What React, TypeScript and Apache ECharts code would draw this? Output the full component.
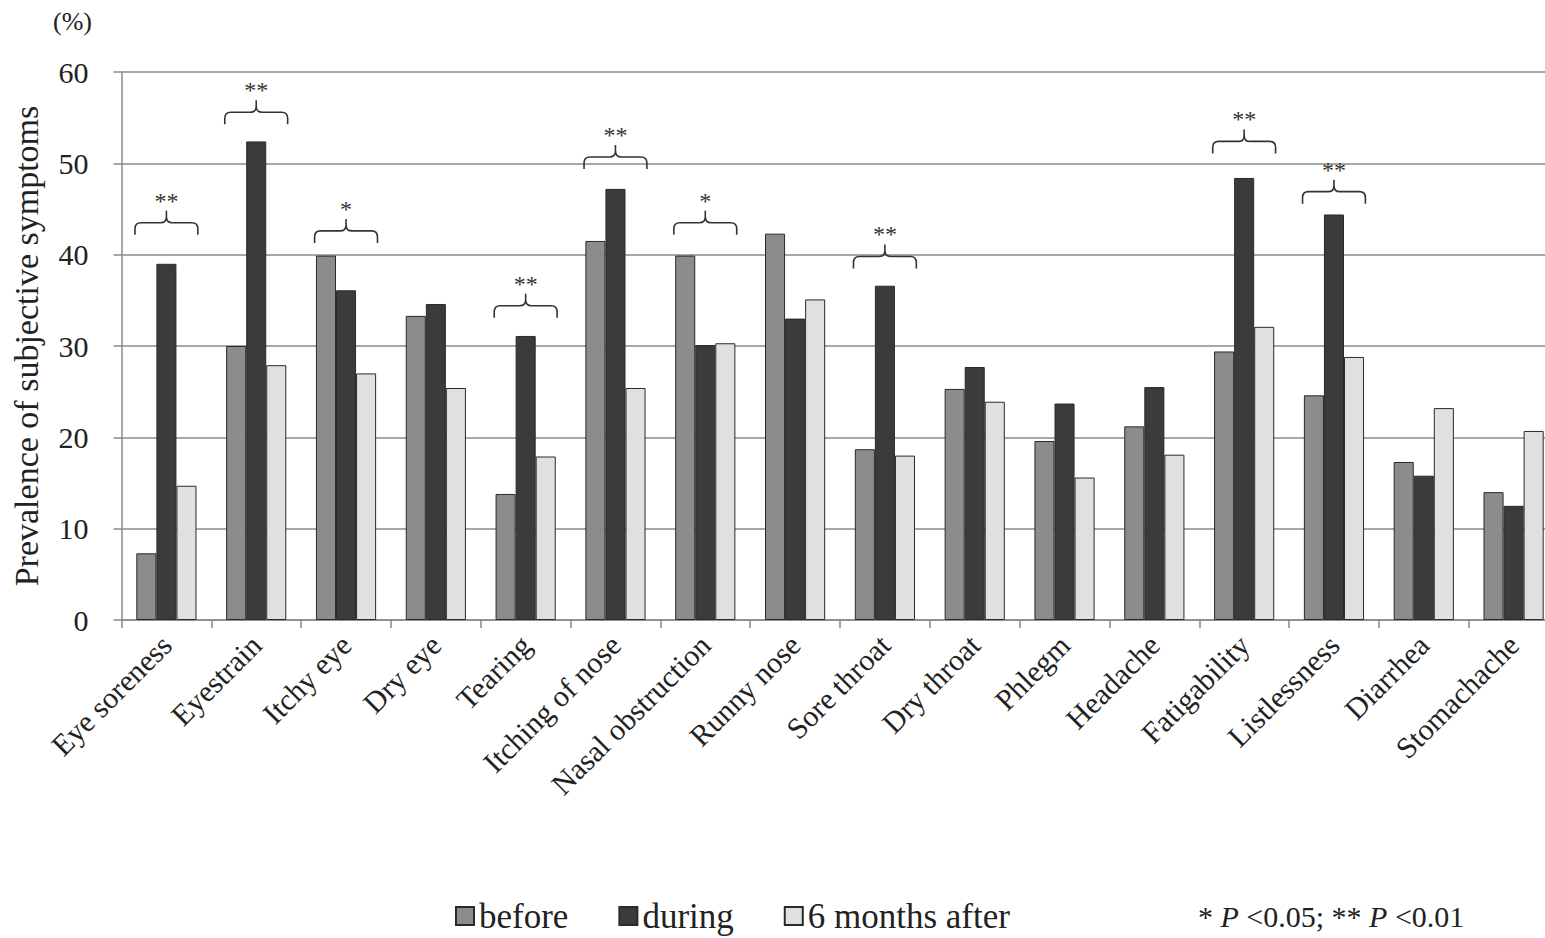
import React, { useEffect, useRef } from "react";
import * as echarts from "echarts";

const categories = [
  "Eye soreness", "Eyestrain", "Itchy eye", "Dry eye", "Tearing", "Itching of nose",
  "Nasal obstruction", "Runny nose", "Sore throat", "Dry throat", "Phlegm", "Headache",
  "Fatigability", "Listlessness", "Diarrhea", "Stomachache",
];
const beforeValues = [7.3, 30.0, 39.9, 33.3, 13.8, 41.5, 39.9, 42.3, 18.7, 25.3, 19.6, 21.2, 29.4, 24.6, 17.3, 14.0];
const duringValues = [39.0, 52.4, 36.1, 34.6, 31.1, 47.2, 30.1, 33.0, 36.6, 27.7, 23.7, 25.5, 48.4, 44.4, 15.8, 12.5];
const afterValues = [14.7, 27.9, 27.0, 25.4, 17.9, 25.4, 30.3, 35.1, 18.0, 23.9, 15.6, 18.1, 32.1, 28.8, 23.2, 20.7];

// significance brackets: category, bracket level (in %), stars
const sigCategories = ["Eye soreness", "Eyestrain", "Itchy eye", "Tearing", "Itching of nose", "Nasal obstruction", "Sore throat", "Fatigability", "Listlessness"];
const sigLevels = [43.5, 55.6, 42.6, 34.4, 50.7, 43.5, 39.8, 52.4, 46.9];
const sigStars = ["**", "**", "*", "**", "**", "*", "**", "**", "**"];

const yTicks = { min: 0, max: 60, interval: 10 };
const seriesNames = ["before", "during", "6 months after"];

const SERIF = "Liberation Serif";

export default function App() {
  const ref = useRef<HTMLDivElement>(null);
  useEffect(() => {
    if (!ref.current) return;
    const chart = echarts.init(ref.current, null, { renderer: "svg" });
    const barStyle = (color: string) => ({
      color,
      borderColor: "#2a2a2a",
      borderWidth: 1,
    });
    const option: any = {
      animation: false,
      backgroundColor: "#ffffff",
      textStyle: { fontFamily: SERIF },
      grid: {
        left: 121.5,
        top: 72,
        width: 1437,
        height: 548,
        containLabel: false,
        outerBoundsMode: "none",
      },
      legend: {
        left: 455,
        top: 898,
        padding: 0,
        data: seriesNames,
        icon: "rect",
        itemWidth: 18,
        itemHeight: 18,
        itemGap: 50,
        textStyle: { fontFamily: SERIF, fontSize: 35, color: "#222", lineHeight: 36 },
      },
      xAxis: {
        type: "category",
        data: categories,
        axisLine: { lineStyle: { color: "#8a8a8a", width: 1.5 } },
        axisTick: { show: true, length: 8, lineStyle: { color: "#8a8a8a", width: 1.5 } },
        axisLabel: {
          rotate: 45,
          interval: 0,
          margin: 20,
          fontFamily: SERIF,
          fontSize: 30,
          color: "#222",
        },
      },
      yAxis: {
        type: "value",
        min: yTicks.min,
        max: yTicks.max,
        interval: yTicks.interval,
        name: "Prevalence of subjective symptoms",
        nameLocation: "middle",
        nameRotate: 90,
        nameGap: 78,
        nameTextStyle: { fontFamily: SERIF, fontSize: 34, color: "#222" },
        axisLine: { show: true, lineStyle: { color: "#8a8a8a", width: 1.5 } },
        axisTick: { show: true, length: 8, lineStyle: { color: "#8a8a8a", width: 1.5 } },
        axisLabel: { fontFamily: SERIF, fontSize: 30, color: "#222", margin: 33 },
        splitLine: { lineStyle: { color: "#8a8a8a", width: 1.5 } },
      },
      series: [
        {
          name: seriesNames[0],
          type: "bar",
          data: beforeValues,
          barGap: "0%",
          barCategoryGap: "33%",
          itemStyle: barStyle("#8c8c8c"),
        },
        {
          name: seriesNames[1],
          type: "bar",
          data: duringValues,
          barGap: "0%",
          barCategoryGap: "33%",
          itemStyle: barStyle("#3b3b3b"),
        },
        {
          name: seriesNames[2],
          type: "bar",
          data: afterValues,
          barGap: "0%",
          barCategoryGap: "33%",
          itemStyle: barStyle("#e0e0e0"),
        },
        {
          type: "custom",
          silent: true,
          z: 10,
          data: sigCategories.map((c, i) => [c, sigLevels[i]]),
          encode: { x: 0, y: 1 },
          renderItem: (params: any, api: any) => {
            const pt = api.coord([api.value(0), api.value(1)]);
            const band = api.size([1, 0])[0];
            const half = band * 0.35;
            const cx = pt[0];
            const y = pt[1];
            const x0 = cx - half;
            const x1 = cx + half;
            const drop = 12;
            const rise = 12;
            const r = 6;
            const d =
              `M${x0},${y + drop} L${x0},${y + r} Q${x0},${y} ${x0 + r},${y} ` +
              `L${cx - r},${y} Q${cx},${y} ${cx},${y - r} L${cx},${y - rise} ` +
              `M${cx},${y - r} Q${cx},${y} ${cx + r},${y} ` +
              `L${x1 - r},${y} Q${x1},${y} ${x1},${y + r} L${x1},${y + drop}`;
            return {
              type: "group",
              children: [
                {
                  type: "path",
                  shape: { pathData: d },
                  style: { stroke: "#333", fill: "none", lineWidth: 1.6 },
                },
                {
                  type: "text",
                  x: cx,
                  y: y - rise + 2,
                  style: {
                    text: sigStars[params.dataIndex],
                    fontFamily: SERIF,
                    fontSize: 24,
                    fill: "#333",
                    align: "center",
                    verticalAlign: "bottom",
                  },
                },
              ],
            };
          },
        },
      ],
      graphic: [
        {
          type: "text",
          left: 53,
          top: 8,
          style: { text: "(%)", fontFamily: SERIF, fontSize: 26, fill: "#222" },
        },
        {
          type: "text",
          left: 1198,
          top: 901,
          style: {
            text: "* {i|P} <0.05; ** {i|P} <0.01",
            fontFamily: SERIF,
            fontSize: 30,
            fill: "#222",
            rich: {
              i: { fontFamily: SERIF, fontSize: 30, fontStyle: "italic", fill: "#222" },
            },
          },
        },
      ],
    };
    chart.setOption(option);
    return () => chart.dispose();
  }, []);
  return (
    <div
      ref={ref}
      style={{ position: "fixed", left: 0, top: 0, width: 1545, height: 938, background: "#fff" }}
    />
  );
}
